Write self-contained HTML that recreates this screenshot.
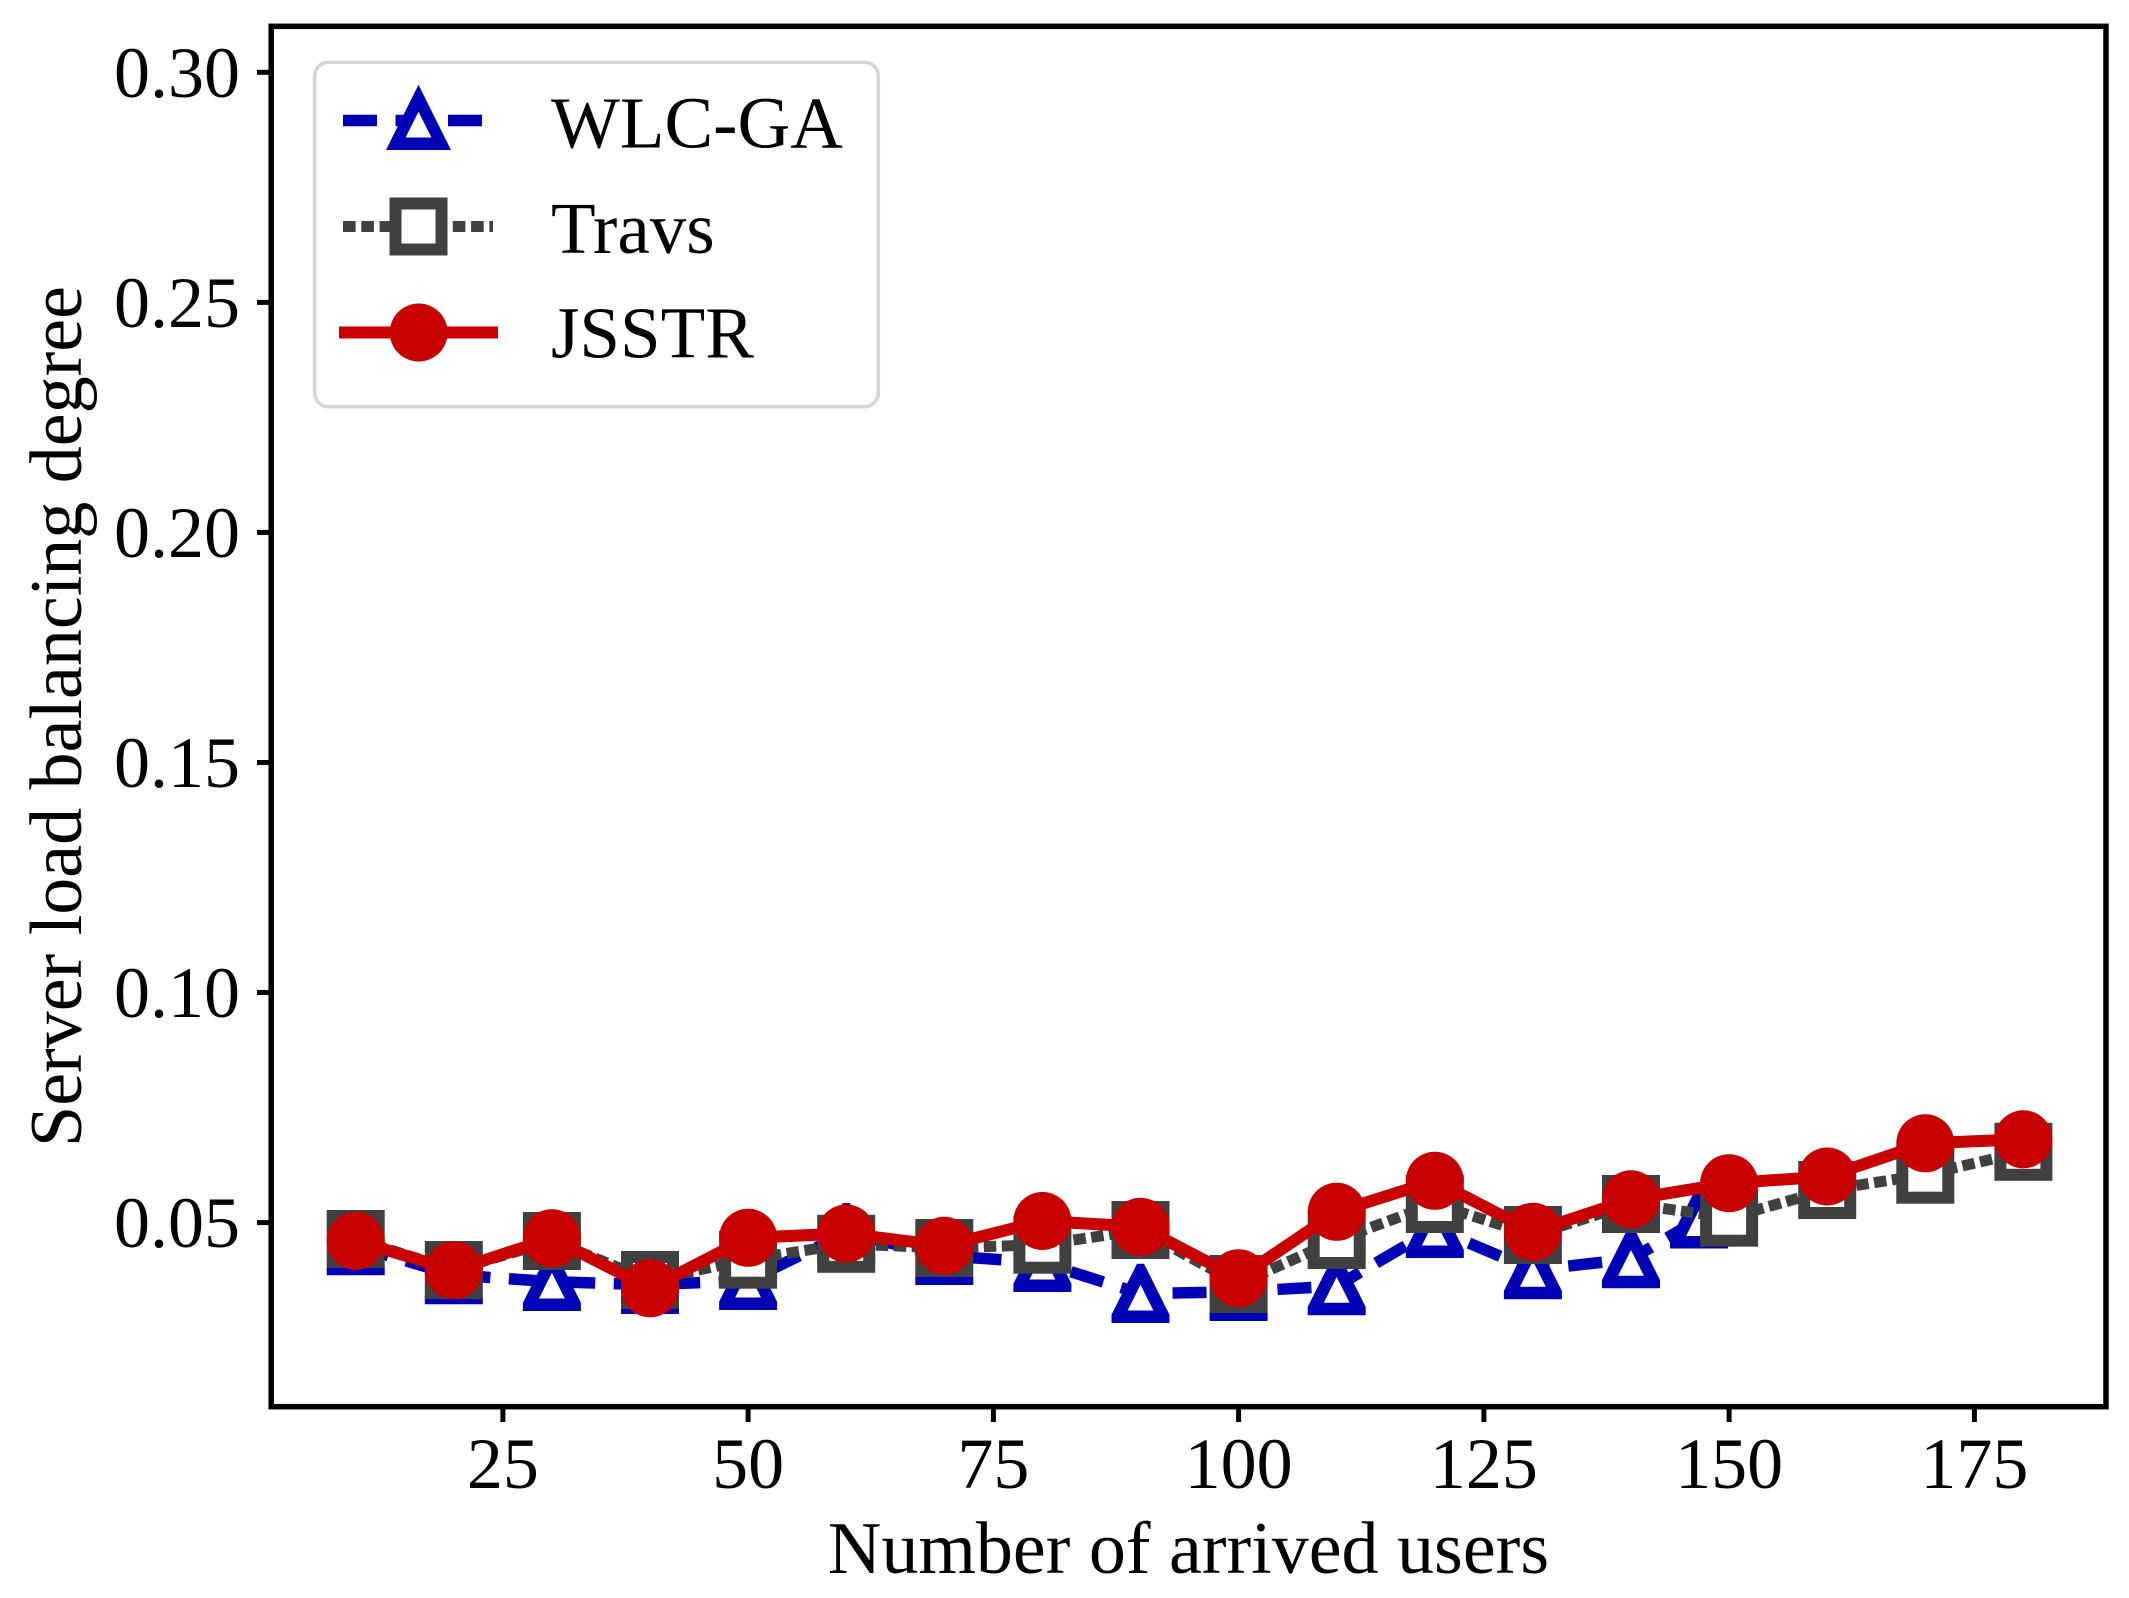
<!DOCTYPE html>
<html>
<head>
<meta charset="utf-8">
<style>
  html, body { margin: 0; padding: 0; background: #ffffff; }
  svg { display: block; }
  text { font-family: "Liberation Serif", "Times New Roman", serif; fill: #000; }
</style>
</head>
<body>
<svg xmlns="http://www.w3.org/2000/svg" width="2129" height="1598" viewBox="0 0 2129 1598">
  <defs>
    <g id="tri">
      <polygon points="-3.5,-30 3.5,-30 29,21 29,29.25 -29,29.25 -29,21" fill="#0000b4"/>
      <polygon points="0,-9 12.9,16.75 -12.9,16.75" fill="#ffffff"/>
    </g>
    <g id="sq">
      <rect x="-23" y="-23" width="46" height="46" fill="#ffffff" stroke="#404040" stroke-width="12"/>
    </g>
    <g id="circ">
      <circle cx="0" cy="0" r="29" fill="#c80000"/>
    </g>
  </defs>

  <rect x="0" y="0" width="2129" height="1598" fill="#ffffff"/>

  <!-- WLC-GA (blue dashed, triangles) -->
  <polyline fill="none" stroke="#0000b4" stroke-width="11.5" stroke-dasharray="34 18.5" stroke-linejoin="round" stroke-linecap="butt"
    points="355.7,1246 453.8,1275 551.9,1281.7 650.0,1284.7 748.1,1280.7 846.2,1233 944.3,1255.7 1042.4,1262.7 1140.5,1293.7 1238.6,1291.7 1336.7,1286 1434.8,1228.7 1532.9,1270 1631.0,1259 1699,1219.3"/>
  <use href="#tri" x="355.7" y="1246"/>
  <use href="#tri" x="453.8" y="1275"/>
  <use href="#tri" x="551.9" y="1281.7"/>
  <use href="#tri" x="650.0" y="1284.7"/>
  <use href="#tri" x="748.1" y="1280.7"/>
  <use href="#tri" x="846.2" y="1233"/>
  <use href="#tri" x="944.3" y="1255.7"/>
  <use href="#tri" x="1042.4" y="1262.7"/>
  <use href="#tri" x="1140.5" y="1293.7"/>
  <use href="#tri" x="1238.6" y="1291.7"/>
  <use href="#tri" x="1336.7" y="1286"/>
  <use href="#tri" x="1434.8" y="1228.7"/>
  <use href="#tri" x="1532.9" y="1270"/>
  <use href="#tri" x="1631.0" y="1259"/>
  <use href="#tri" x="1699" y="1219.3"/>

  <!-- Travs (gray dotted, squares) -->
  <polyline fill="none" stroke="#404040" stroke-width="11" stroke-dasharray="12.5 5.5" stroke-linejoin="round" stroke-linecap="butt"
    points="355.7,1239 453.8,1270 551.9,1241 650.0,1280 748.1,1259.7 846.2,1243.8 944.3,1248 1042.4,1244.7 1140.5,1230 1238.6,1284 1336.7,1240 1434.8,1204 1532.9,1235 1631.0,1204 1729.1,1217.7 1827.2,1190 1925.3,1174.7 2023.4,1151.8"/>
  <use href="#sq" x="355.7" y="1239"/>
  <use href="#sq" x="453.8" y="1270"/>
  <use href="#sq" x="551.9" y="1241"/>
  <use href="#sq" x="650.0" y="1280"/>
  <use href="#sq" x="748.1" y="1259.7"/>
  <use href="#sq" x="846.2" y="1243.8"/>
  <use href="#sq" x="944.3" y="1248"/>
  <use href="#sq" x="1042.4" y="1244.7"/>
  <use href="#sq" x="1140.5" y="1230"/>
  <use href="#sq" x="1238.6" y="1284"/>
  <use href="#sq" x="1336.7" y="1240"/>
  <use href="#sq" x="1434.8" y="1204"/>
  <use href="#sq" x="1532.9" y="1235"/>
  <use href="#sq" x="1631.0" y="1204"/>
  <use href="#sq" x="1729.1" y="1217.7"/>
  <use href="#sq" x="1827.2" y="1190"/>
  <use href="#sq" x="1925.3" y="1174.7"/>
  <use href="#sq" x="2023.4" y="1151.8"/>

  <!-- JSSTR (red solid, circles) -->
  <polyline fill="none" stroke="#c80000" stroke-width="12" stroke-linejoin="round" stroke-linecap="square"
    points="355.7,1240.8 453.8,1270.2 551.9,1238.2 650.0,1288.3 748.1,1237.8 846.2,1233.5 944.3,1245.8 1042.4,1221 1140.5,1226.8 1238.6,1278.2 1336.7,1211.8 1434.8,1180.8 1532.9,1231.7 1631.0,1199.3 1729.1,1183.2 1827.2,1176.5 1925.3,1143.3 2023.4,1139.3"/>
  <use href="#circ" x="355.7" y="1240.8"/>
  <use href="#circ" x="453.8" y="1270.2"/>
  <use href="#circ" x="551.9" y="1238.2"/>
  <use href="#circ" x="650.0" y="1288.3"/>
  <use href="#circ" x="748.1" y="1237.8"/>
  <use href="#circ" x="846.2" y="1233.5"/>
  <use href="#circ" x="944.3" y="1245.8"/>
  <use href="#circ" x="1042.4" y="1221"/>
  <use href="#circ" x="1140.5" y="1226.8"/>
  <use href="#circ" x="1238.6" y="1278.2"/>
  <use href="#circ" x="1336.7" y="1211.8"/>
  <use href="#circ" x="1434.8" y="1180.8"/>
  <use href="#circ" x="1532.9" y="1231.7"/>
  <use href="#circ" x="1631.0" y="1199.3"/>
  <use href="#circ" x="1729.1" y="1183.2"/>
  <use href="#circ" x="1827.2" y="1176.5"/>
  <use href="#circ" x="1925.3" y="1143.3"/>
  <use href="#circ" x="2023.4" y="1139.3"/>

  <!-- Axes frame -->
  <rect x="271.2" y="26.3" width="1834.8" height="1380.4" fill="none" stroke="#000" stroke-width="5.5" stroke-linejoin="miter"/>

  <!-- Y ticks -->
  <g stroke="#000" stroke-width="5">
    <line x1="257" y1="72.3" x2="271.2" y2="72.3"/>
    <line x1="257" y1="302.4" x2="271.2" y2="302.4"/>
    <line x1="257" y1="532.4" x2="271.2" y2="532.4"/>
    <line x1="257" y1="762.5" x2="271.2" y2="762.5"/>
    <line x1="257" y1="992.5" x2="271.2" y2="992.5"/>
    <line x1="257" y1="1222.6" x2="271.2" y2="1222.6"/>
  </g>
  <g font-size="72" text-anchor="end">
    <text x="240" y="97">0.30</text>
    <text x="240" y="327">0.25</text>
    <text x="240" y="557">0.20</text>
    <text x="240" y="787">0.15</text>
    <text x="240" y="1017">0.10</text>
    <text x="240" y="1247">0.05</text>
  </g>

  <!-- X ticks -->
  <g stroke="#000" stroke-width="5">
    <line x1="502.9" y1="1406.7" x2="502.9" y2="1422"/>
    <line x1="748.1" y1="1406.7" x2="748.1" y2="1422"/>
    <line x1="993.4" y1="1406.7" x2="993.4" y2="1422"/>
    <line x1="1238.6" y1="1406.7" x2="1238.6" y2="1422"/>
    <line x1="1483.9" y1="1406.7" x2="1483.9" y2="1422"/>
    <line x1="1729.1" y1="1406.7" x2="1729.1" y2="1422"/>
    <line x1="1974.4" y1="1406.7" x2="1974.4" y2="1422"/>
  </g>
  <g font-size="72" text-anchor="middle">
    <text x="502.9" y="1488">25</text>
    <text x="748.1" y="1488">50</text>
    <text x="993.4" y="1488">75</text>
    <text x="1238.6" y="1488">100</text>
    <text x="1483.9" y="1488">125</text>
    <text x="1729.1" y="1488">150</text>
    <text x="1974.4" y="1488">175</text>
  </g>

  <!-- Axis labels -->
  <text x="1188.5" y="1573" font-size="74" text-anchor="middle">Number of arrived users</text>
  <text transform="translate(81,716.5) rotate(-90)" font-size="74" text-anchor="middle">Server load balancing degree</text>

  <!-- Legend -->
  <rect x="314.6" y="62.3" width="563.7" height="344.4" rx="14" ry="14" fill="#ffffff" fill-opacity="0.8" stroke="#d6d6d6" stroke-width="3.5"/>
  <!-- WLC-GA -->
  <line x1="343" y1="120.5" x2="493" y2="120.5" stroke="#0000b4" stroke-width="11.5" stroke-dasharray="34 18.5" stroke-linecap="butt"/>
  <g transform="translate(418.5,120.7)">
    <polygon points="0,-36 32.5,29.3 -32.5,29.3" fill="#0000b4"/>
    <polygon points="0,-9 12.9,16.75 -12.9,16.75" fill="#ffffff"/>
  </g>
  <text x="551" y="147.5" font-size="73">WLC-GA</text>
  <!-- Travs -->
  <line x1="343" y1="226.5" x2="493" y2="226.5" stroke="#404040" stroke-width="11" stroke-dasharray="12.6 5.7" stroke-linecap="butt"/>
  <rect x="395.5" y="203.5" width="46" height="46" fill="#ffffff" stroke="#404040" stroke-width="12"/>
  <text x="551" y="253" font-size="73">Travs</text>
  <!-- JSSTR -->
  <line x1="345" y1="332.5" x2="492" y2="332.5" stroke="#c80000" stroke-width="12" stroke-linecap="square"/>
  <circle cx="418.7" cy="332.5" r="29" fill="#c80000"/>
  <text x="551" y="357.5" font-size="73">JSSTR</text>
</svg>
</body>
</html>
